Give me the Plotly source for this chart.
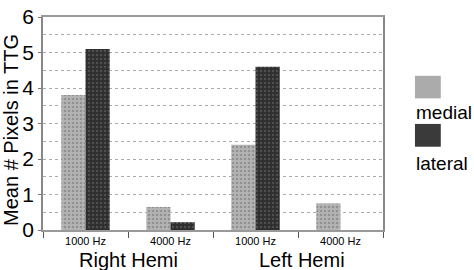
import plotly.graph_objects as go

categories = ["R1000", "R4000", "L1000", "L4000"]
tick_labels = ["1000 Hz", "4000 Hz", "1000 Hz", "4000 Hz"]
group_labels = ["Right Hemi", "Left Hemi"]
medial = [3.8, 0.65, 2.4, 0.75]
lateral = [5.1, 0.22, 4.6, 0.0]

FONT = "Arial, Liberation Sans, sans-serif"

fig = go.Figure()
fig.add_trace(go.Bar(
    x=categories, y=medial, name="medial",
    marker=dict(color="#ababab", line=dict(width=0),
                pattern=dict(shape=".", fgcolor="#6e6e6e", bgcolor="#b4b4b4", size=4, solidity=0.35)),
))
fig.add_trace(go.Bar(
    x=categories, y=lateral, name="lateral",
    marker=dict(color="#3a3a3a", line=dict(width=0),
                pattern=dict(shape=".", fgcolor="#707070", bgcolor="#2e2e2e", size=4, solidity=0.3)),
))

fig.update_layout(
    width=474, height=270,
    margin=dict(l=43, r=91, t=5, b=40),
    paper_bgcolor="white", plot_bgcolor="white",
    barmode="group", bargap=0.43, bargroupgap=0,
    showlegend=False,
    font=dict(family=FONT, color="black"),
)
fig.update_xaxes(
    type="category", categoryorder="array", categoryarray=categories,
    tickmode="array", tickvals=categories, ticktext=tick_labels,
    tickson="boundaries", ticks="outside", ticklen=6, tickcolor="#555",
    tickfont=dict(size=11, family=FONT),
    showline=True, linecolor="#999", linewidth=1.5, mirror=True,
    showgrid=False,
)
fig.update_yaxes(
    range=[0, 6], dtick=1, tickfont=dict(size=21, family=FONT),
    ticklabeloverflow="allow",
    ticks="outside", ticklen=3, tickcolor="#777",
    showline=True, linecolor="#888", linewidth=1.5, mirror=True,
    showgrid=True, gridcolor="#aaa", griddash="dot", gridwidth=1,
    minor=dict(dtick=0.5, showgrid=True, gridcolor="#aaa", griddash="dot"),
    zeroline=False,
)

# Group labels
for pos, lab in zip([0.5, 2.55], group_labels):
    fig.add_annotation(x=pos, xref="x", y=0, yref="paper", yanchor="middle",
                       yshift=-30, text=lab, showarrow=False,
                       font=dict(size=20, family=FONT))

# Y axis title
fig.add_annotation(x=-0.094, xref="paper", y=0.47, yref="paper",
                   text="Mean # Pixels in TTG", textangle=-90, showarrow=False,
                   xanchor="center", yanchor="middle",
                   font=dict(size=20, family=FONT))

# Legend (manual, swatch above text)
legend_items = [("medial", "#ababab", 0.618, 0.724, 0.551),
                ("lateral", "#3a3a3a", 0.391, 0.498, 0.311)]
for name, col, y0, y1, ty in legend_items:
    fig.add_shape(type="rect", xref="paper", yref="paper",
                  x0=1.094, x1=1.17, y0=y0, y1=y1,
                  fillcolor=col, line=dict(width=0))
    fig.add_annotation(x=1.091, xref="paper", y=ty, yref="paper",
                       text=name, showarrow=False, xanchor="left", yanchor="middle",
                       font=dict(size=19, family=FONT))

fig.write_html("out.html")
